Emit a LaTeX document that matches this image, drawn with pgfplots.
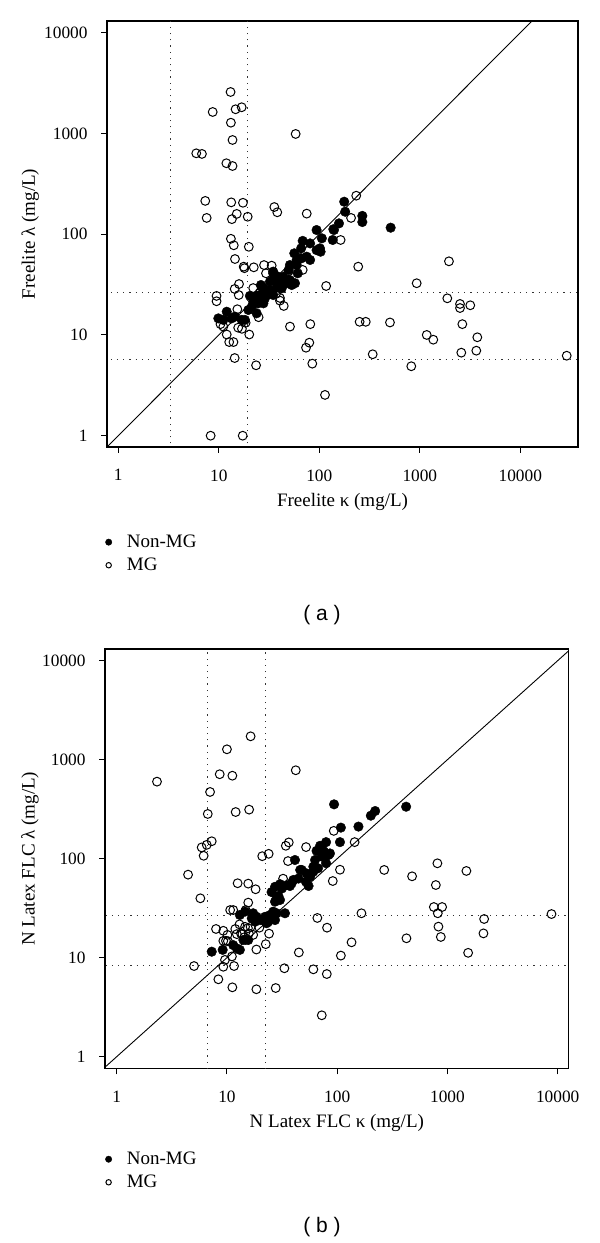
\documentclass[border=0pt]{standalone}
\usepackage{fontspec}
\setmainfont{Liberation Serif}
\newfontfamily\sansf{Liberation Sans}
\usepackage{pgfplots}
\usepackage{pgfplotstable}
\pgfplotsset{compat=1.18}

\pgfplotstableread{
x y
13.1 2578
8.7 1633
14.7 1737
16.9 1819
13.2 1278
13.7 861
58.2 988
5.97 635
6.8 626
11.9 506
13.7 475
7.34 214
13.3 207
17.4 205
7.58 145
13.5 141
15.1 159
19.4 149
35.7 186
38.2 165
75 160
13.2 90
14.1 77.6
19.9 75
14.5 56.7
17.7 47.6
18.0 46
22.3 46.9
28.2 49.4
33.6 48.7
29.5 40.9
49.6 42.9
68.4 44.2
163 87.6
117 30.6
15.9 32
14.4 28.6
15.8 24.9
22 29.2
9.5 24.4
9.5 21.6
15.3 18.0
25.3 26
40.6 21.9
44.3 19.4
24.9 15.0
10.4 12.8
11.1 12.1
12.0 10.1
12.7 8.5
14.0 8.5
15.6 11.8
17.0 11.5
18.5 13.2
20.1 10.1
14.4 5.9
23.5 5.0
51.1 12.1
81.4 12.8
73.8 7.47
79.6 8.38
85.2 5.19
114 2.54
8.3 1
17.3 1
233 241
207 145
244 47.6
1950 53.8
931 32.6
1878 23.1
2512 20.3
2512 18.5
3178 19.7
252 13.5
290 13.5
505 13.3
2650 12.8
1172 10.0
1362 8.97
3735 9.48
340 6.43
2588 6.67
3650 6.98
823 4.89
28960 6.22
37 25.5
40.6 23.3
}\amg

\pgfplotstableread{
x y
177 210
181 167
268 152
268 132
157 128
513 116
138 112
136 87.6
140 110
106 91
94 110
101.5 72.4
103 67
94 69.5
81 81
68.4 85.8
66 72.4
56.4 64.6
59.6 55.5
66.5 57.6
75 59.8
81 55.5
51 49.4
59.6 49.4
61 40.9
49.6 44.2
34.8 40.9
39.1 37.8
43.8 35.1
36.3 35.1
32.3 33.8
47.4 32.6
51 35.1
57.3 32.6
26.3 31.3
27.8 29
32.3 27.9
37.7 29.5
42.3 29
20.4 24.4
23.8 24.4
30 24.9
34.8 24.9
9.9 14.6
11.1 14.1
12.0 17.0
13.4 14.6
14.5 15.2
16.9 14.1
18.2 14.1
19.7 17.7
21.3 19.1
22.0 21.4
24.7 20.6
23.8 16.4
25.7 24.9
26.8 30.1
28.8 23.1
31.1 26.9
27.8 20.6
40.6 31.3
53.2 31.3
43.8 37.8
34.8 42.5
}\anon

\pgfplotstableread{
x y
16.4 1722
10.0 1273
8.6 713
11.2 689
42.1 782
2.32 600
7.03 472
6.7 283
12.0 296
15.9 313
5.9 130
6.56 138
7.28 150
6.15 107
20.9 106
23.9 112
4.44 69
34.2 135
36.4 146
35.8 94.6
52.2 131
93.1 191
106 77.4
91.2 59.5
32.3 62.8
12.5 56.5
15.6 56
18.2 49.1
5.74 39.8
10.7 30.3
11.4 30.3
14.8 30.3
15.6 36
66.1 25.2
80.9 20.1
44.9 11.3
108 10.5
7.96 19.5
9.27 18.7
10.1 17.0
9.27 14.8
10.2 14.7
11.9 19.5
13.0 21.7
13.4 17.6
14.8 15.1
15.8 17.6
17.3 17.0
15.5 19.9
18.5 12.1
22.5 13.7
24.1 17.5
11.1 10.3
5.03 8.24
9.27 8.1
11.6 8.24
8.36 6.05
11.2 5.02
18.5 4.8
27.7 4.94
33.2 7.82
60.8 7.63
80.5 6.84
72.5 2.62
144 147
267 77
478 66.4
811 89.8
785 54.2
1486 75.2
753 32.5
895 32.5
818 28.1
166 28.1
829 20.6
871 16.2
425 15.7
2153 24.6
2122 17.6
1541 11.2
135 14.3
8790 27.6
9.6 9.5
12.3 17.3
13.8 17.3
14.4 16.1
16.4 20.5
19.7 20.1
9.8 14.8
14.6 20.5
}\bmg

\pgfplotstableread{
x y
93.7 354
108 206
106 147
156 211
202 272
221 303
422 335
86 113
79.3 147
70 135
65 120
76 118
83.5 109
72.5 105
63 97
79.3 90
67 80
60.8 74
52.7 71
47.7 77
56.9 66
44.5 63
52 58.6
41.4 97
40 61
55 53
37.3 53
31.5 50
27.3 52
25.4 46
29.3 42
30.3 55.3
34.8 54
38.6 56.3
28.3 41.3
30.3 38.3
27.3 36.8
13.1 27
14.6 29.2
17.3 28.1
18.6 25.9
18.0 23.1
20.0 24.0
22.2 25.9
24.6 27
23.7 23.1
26.3 29.2
28.3 28.1
33.6 28.1
27.3 24.0
22.9 22.3
7.28 11.5
9.15 12.0
11.4 13.4
12.3 12.4
13.1 12.0
16.8 25
15.6 15.1
14.1 15.1
70 122
72.5 132
60.8 83
46.2 77
}\bnon

\begin{document}
\begin{tikzpicture}
\path[use as bounding box] (0,0) rectangle (600pt,1243pt);

% Panel (a)
\begin{axis}[at={(107pt,796pt)}, anchor=south west,
  scale only axis, width=471pt, height=426pt,
  xmode=log, ymode=log,
  xmin=0.7727, xmax=37497, ymin=0.7727, ymax=13062,
  axis line style={line width=1.1pt},
  tick style={line width=1pt, black},
  tick align=outside, major tick length=6pt,
  xtick={1,10,100,1000,10000}, ytick={1,10,100,1000,10000},
  xticklabels={1,10,100,1000,10000}, yticklabels={1,10,100,1000,10000},
  xminorticks=false, yminorticks=false,
  xtick pos=left, ytick pos=left,
  ticklabel style={font=\fontsize{17.3}{19}\selectfont},
  xticklabel style={yshift=-13pt},
  yticklabel style={xshift=-10pt},
  label style={font=\fontsize{19}{22}\selectfont},
  xlabel style={at={(axis description cs:0.5,-0.13)}, anchor=center},
  ylabel style={at={(axis description cs:-0.163,0.5)}, anchor=center},
  legend style={draw=none, fill=none, font=\fontsize{19}{22}\selectfont,
    anchor=north west, at={(axis description cs:-0.01,-0.197)}, row sep=5pt,
    /tikz/every odd column/.append style={column sep=13pt}},
  legend cell align=left,
  xlabel={Freelite κ (mg/L)}, ylabel={Freelite λ (mg/L)}]
\addplot[forget plot, black!80, line width=0.9pt, dash pattern=on 1.2pt off 5pt] coordinates {(3.3,0.1) (3.3,1e5)};
\addplot[forget plot, black!80, line width=0.9pt, dash pattern=on 1.2pt off 5pt] coordinates {(19.4,0.1) (19.4,1e5)};
\addplot[forget plot, black!80, line width=0.9pt, dash pattern=on 1.2pt off 5pt] coordinates {(0.1,5.7) (1e5,5.7)};
\addplot[forget plot, black!80, line width=0.9pt, dash pattern=on 1.2pt off 5pt] coordinates {(0.1,26.3) (1e5,26.3)};
\addplot[forget plot, black, line width=0.9pt] coordinates {(0.1,0.1) (1e6,1e6)};
\addplot[only marks, mark=*, mark size=4.8pt, mark options={black, fill=black},
  legend image code/.code={\draw[mark repeat=2, mark phase=2, mark size=3.2pt] plot coordinates {(0pt,0pt) (4pt,0pt) (16pt,0pt)};}] table[x=x,y=y] {\anon};
\addplot[only marks, mark=o, mark size=4.4pt, mark options={line width=1pt, black},
  legend image code/.code={\draw[mark repeat=2, mark phase=2, mark size=2.7pt] plot coordinates {(0pt,0pt) (4pt,0pt) (16pt,0pt)};}] table[x=x,y=y] {\amg};
\legend{Non-MG, MG}
\end{axis}
\node[font=\sansf\fontsize{21}{24}\selectfont] at (322pt,628pt) {( a )};

% Panel (b)
\begin{axis}[at={(105pt,174.7pt)}, anchor=south west,
  scale only axis, width=463.7pt, height=419.3pt,
  xmode=log, ymode=log,
  xmin=0.7834, xmax=12589, ymin=0.7638, ymax=13122,
  axis line style={line width=1.1pt},
  tick style={line width=1pt, black},
  tick align=outside, major tick length=6pt,
  xtick={1,10,100,1000,10000}, ytick={1,10,100,1000,10000},
  xticklabels={1,10,100,1000,10000}, yticklabels={1,10,100,1000,10000},
  xminorticks=false, yminorticks=false,
  xtick pos=left, ytick pos=left,
  ticklabel style={font=\fontsize{17.3}{19}\selectfont},
  xticklabel style={yshift=-13pt},
  yticklabel style={xshift=-10pt},
  label style={font=\fontsize{19}{22}\selectfont},
  xlabel style={at={(axis description cs:0.5,-0.13)}, anchor=center},
  ylabel style={at={(axis description cs:-0.162,0.5)}, anchor=center},
  legend style={draw=none, fill=none, font=\fontsize{19}{22}\selectfont,
    anchor=north west, at={(axis description cs:-0.006,-0.19)}, row sep=5pt,
    /tikz/every odd column/.append style={column sep=13pt}},
  legend cell align=left,
  xlabel={N Latex FLC κ (mg/L)}, ylabel={N Latex FLC λ (mg/L)}]
\addplot[forget plot, black!80, line width=0.9pt, dash pattern=on 1.2pt off 5pt] coordinates {(6.7,0.1) (6.7,1e5)};
\addplot[forget plot, black!80, line width=0.9pt, dash pattern=on 1.2pt off 5pt] coordinates {(22.4,0.1) (22.4,1e5)};
\addplot[forget plot, black!80, line width=0.9pt, dash pattern=on 1.2pt off 5pt] coordinates {(0.1,8.3) (1e5,8.3)};
\addplot[forget plot, black!80, line width=0.9pt, dash pattern=on 1.2pt off 5pt] coordinates {(0.1,27.0) (1e5,27.0)};
\addplot[forget plot, black, line width=0.9pt] coordinates {(0.1,0.1) (1e6,1e6)};
\addplot[only marks, mark=*, mark size=4.8pt, mark options={black, fill=black},
  legend image code/.code={\draw[mark repeat=2, mark phase=2, mark size=3.2pt] plot coordinates {(0pt,0pt) (4pt,0pt) (16pt,0pt)};}] table[x=x,y=y] {\bnon};
\addplot[only marks, mark=o, mark size=4.4pt, mark options={line width=1pt, black},
  legend image code/.code={\draw[mark repeat=2, mark phase=2, mark size=2.7pt] plot coordinates {(0pt,0pt) (4pt,0pt) (16pt,0pt)};}] table[x=x,y=y] {\bmg};
\legend{Non-MG, MG}
\end{axis}
\node[font=\sansf\fontsize{21}{24}\selectfont] at (322pt,16pt) {( b )};
\end{tikzpicture}
\end{document}
